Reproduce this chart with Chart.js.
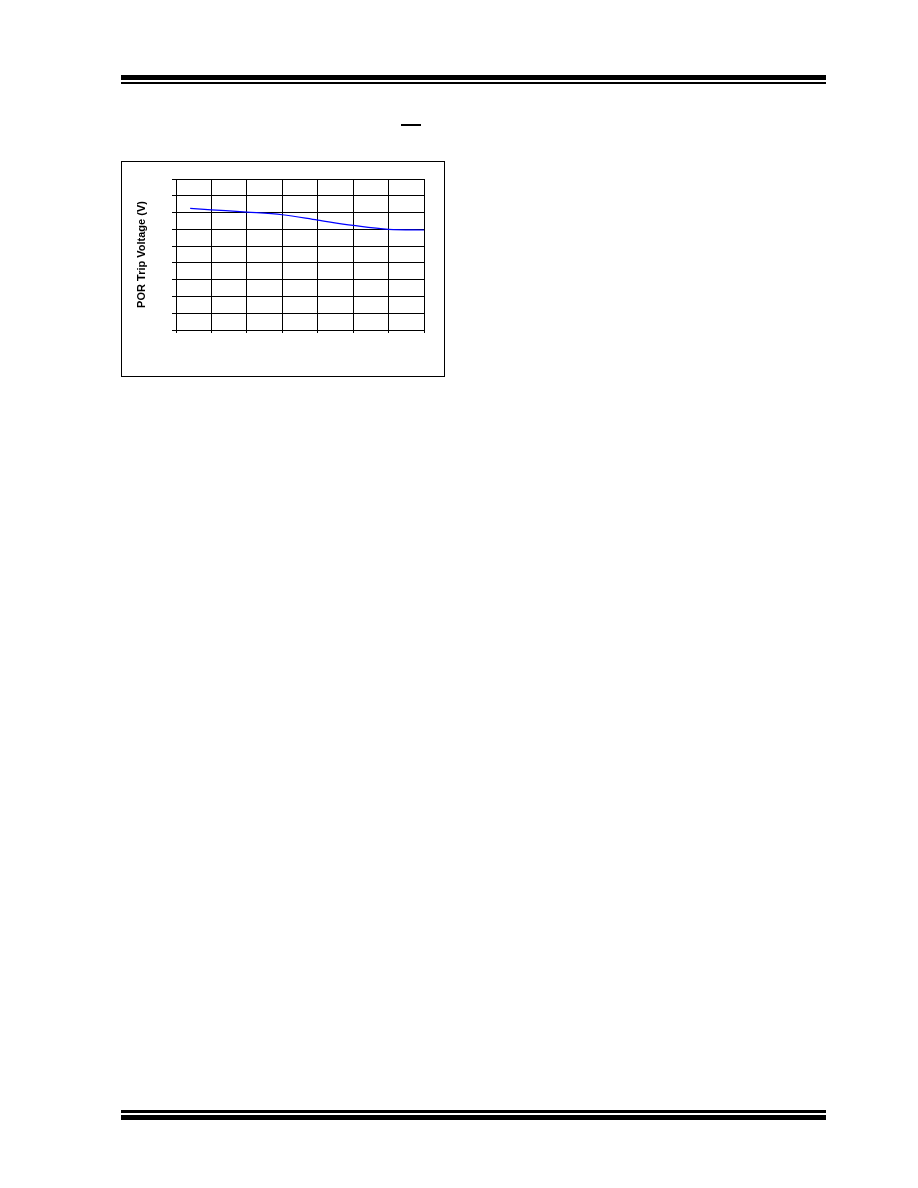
<!DOCTYPE html>
<html>
<head>
<meta charset="utf-8">
<script src="https://cdn.jsdelivr.net/npm/chart.js@4"></script>
<style>
  html, body { margin: 0; padding: 0; background: #fff; }
  body { width: 918px; height: 1188px; position: relative; overflow: hidden; }
  .rule { position: absolute; left: 121px; width: 705px; background: #000; }
  #chart-box { position: absolute; left: 121px; top: 161px; width: 322px; height: 214px; border: 1px solid #000; }
  #chart-box canvas { display: block; }
</style>
</head>
<body>
<div class="rule" style="top:75px;height:5px"></div>
<div class="rule" style="top:82px;height:2px"></div>
<div style="position:absolute;left:401px;top:124px;width:20px;height:2px;background:#000"></div>

<div id="chart-box"><canvas id="por-chart" width="322" height="214"></canvas></div>

<div class="rule" style="top:1110px;height:3px"></div>
<div class="rule" style="top:1115px;height:5px"></div>

<script>
// Temperature (C) and POR trip voltage (V)
const temps = [-40, -25, 0, 25, 50, 75, 100, 125];
const tripVolts = [1.450, 1.433, 1.406, 1.374, 1.310, 1.247, 1.200, 1.192];

// axis ranges (tick labels are not printed in the picture)
const xMin = -50, xMax = 125, xStep = 25;
const yMin = 0, yMax = 1.8, yStep = 0.2;

document.addEventListener('DOMContentLoaded', () => {
    const ctx = document.getElementById('por-chart').getContext('2d');

    const points = temps.map((t, i) => ({ x: t, y: tripVolts[i] }));

    new Chart(ctx, {
        type: 'line',
        data: {
            datasets: [{
                data: points,
                borderColor: '#0000ff',
                borderWidth: 1.2,
                pointRadius: 0,
                fill: false,
                cubicInterpolationMode: 'monotone'
            }]
        },
        options: {
            responsive: false,
            animation: false,
            events: [],
            layout: { padding: { left: 0, top: 17, right: 20, bottom: 0 } },
            plugins: {
                legend: { display: false },
                tooltip: { enabled: false }
            },
            scales: {
                x: {
                    type: 'linear',
                    min: xMin,
                    max: xMax,
                    ticks: { display: false, stepSize: xStep },
                    grid: { color: '#000', lineWidth: 1, tickLength: 3, drawTicks: true },
                    border: { color: '#000', width: 1 },
                    afterFit: (scale) => { scale.height = 46; }
                },
                y: {
                    min: yMin,
                    max: yMax,
                    ticks: { display: false, stepSize: yStep },
                    grid: { color: '#000', lineWidth: 1, tickLength: 4, drawTicks: true },
                    border: { color: '#000', width: 1 },
                    title: {
                        display: true,
                        text: 'POR Trip Voltage (V)',
                        color: '#000',
                        font: { family: 'Arial, "Liberation Sans"', size: 11, weight: 'bold' },
                        padding: { top: 13, bottom: 0 }
                    },
                    afterFit: (scale) => { scale.width = 54; }
                }
            }
        }
    });
});
</script>
</body>
</html>
